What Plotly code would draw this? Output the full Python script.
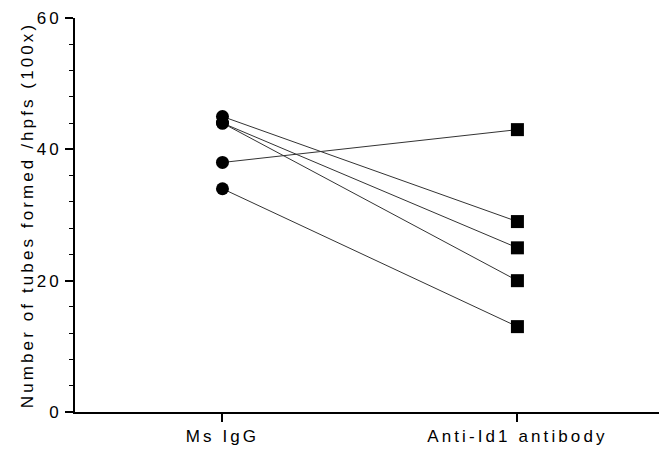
import plotly.graph_objects as go

categories = ["Ms IgG", "Anti-Id1 antibody"]
ms_igg = [45, 44, 44, 38, 34]
anti_id1 = [29, 25, 20, 43, 13]
y_ticks = [0, 20, 40, 60]

fig = go.Figure()
for a, b in zip(ms_igg, anti_id1):
    fig.add_trace(go.Scatter(
        x=categories, y=[a, b], mode="lines",
        line=dict(color="#333333", width=1), showlegend=False, hoverinfo="skip"))
fig.add_trace(go.Scatter(
    x=[categories[0]] * len(ms_igg), y=ms_igg, mode="markers",
    marker=dict(symbol="circle", size=13, color="black"), showlegend=False))
fig.add_trace(go.Scatter(
    x=[categories[1]] * len(anti_id1), y=anti_id1, mode="markers",
    marker=dict(symbol="square", size=13, color="black"), showlegend=False))

fig.update_layout(
    width=659, height=454,
    margin=dict(l=75, r=0, t=18, b=42),
    paper_bgcolor="white", plot_bgcolor="white",
    font=dict(family="Liberation Sans, Arial", size=17, color="black"),
    xaxis=dict(
        type="category", range=[-0.5, 1.48],
        showline=True, linecolor="black", linewidth=1.5,
        ticks="outside", ticklen=8, tickcolor="black", tickwidth=1.5,
        showgrid=False, zeroline=False, tickfont=dict(size=17),
    ),
    yaxis=dict(
        range=[0, 60], tickvals=y_ticks,
        showline=True, linecolor="black", linewidth=1.5,
        ticks="outside", ticklen=8, tickcolor="black", tickwidth=1.5,
        minor=dict(dtick=4, ticks="outside", ticklen=4, tickcolor="black", tickwidth=1),
        showgrid=False, zeroline=False, tickfont=dict(size=17),
        title=dict(text="Number of tubes formed /hpfs (100x)", font=dict(size=17), standoff=5),
    ),
)

post = """
document.body.style.margin = '0';
document.querySelectorAll('.xtick text, .ytick text, .ytitle').forEach(function(t){
  t.style.letterSpacing = '3.1px';
});
"""
fig.write_html("out.html", post_script=post, config={"displayModeBar": False})
